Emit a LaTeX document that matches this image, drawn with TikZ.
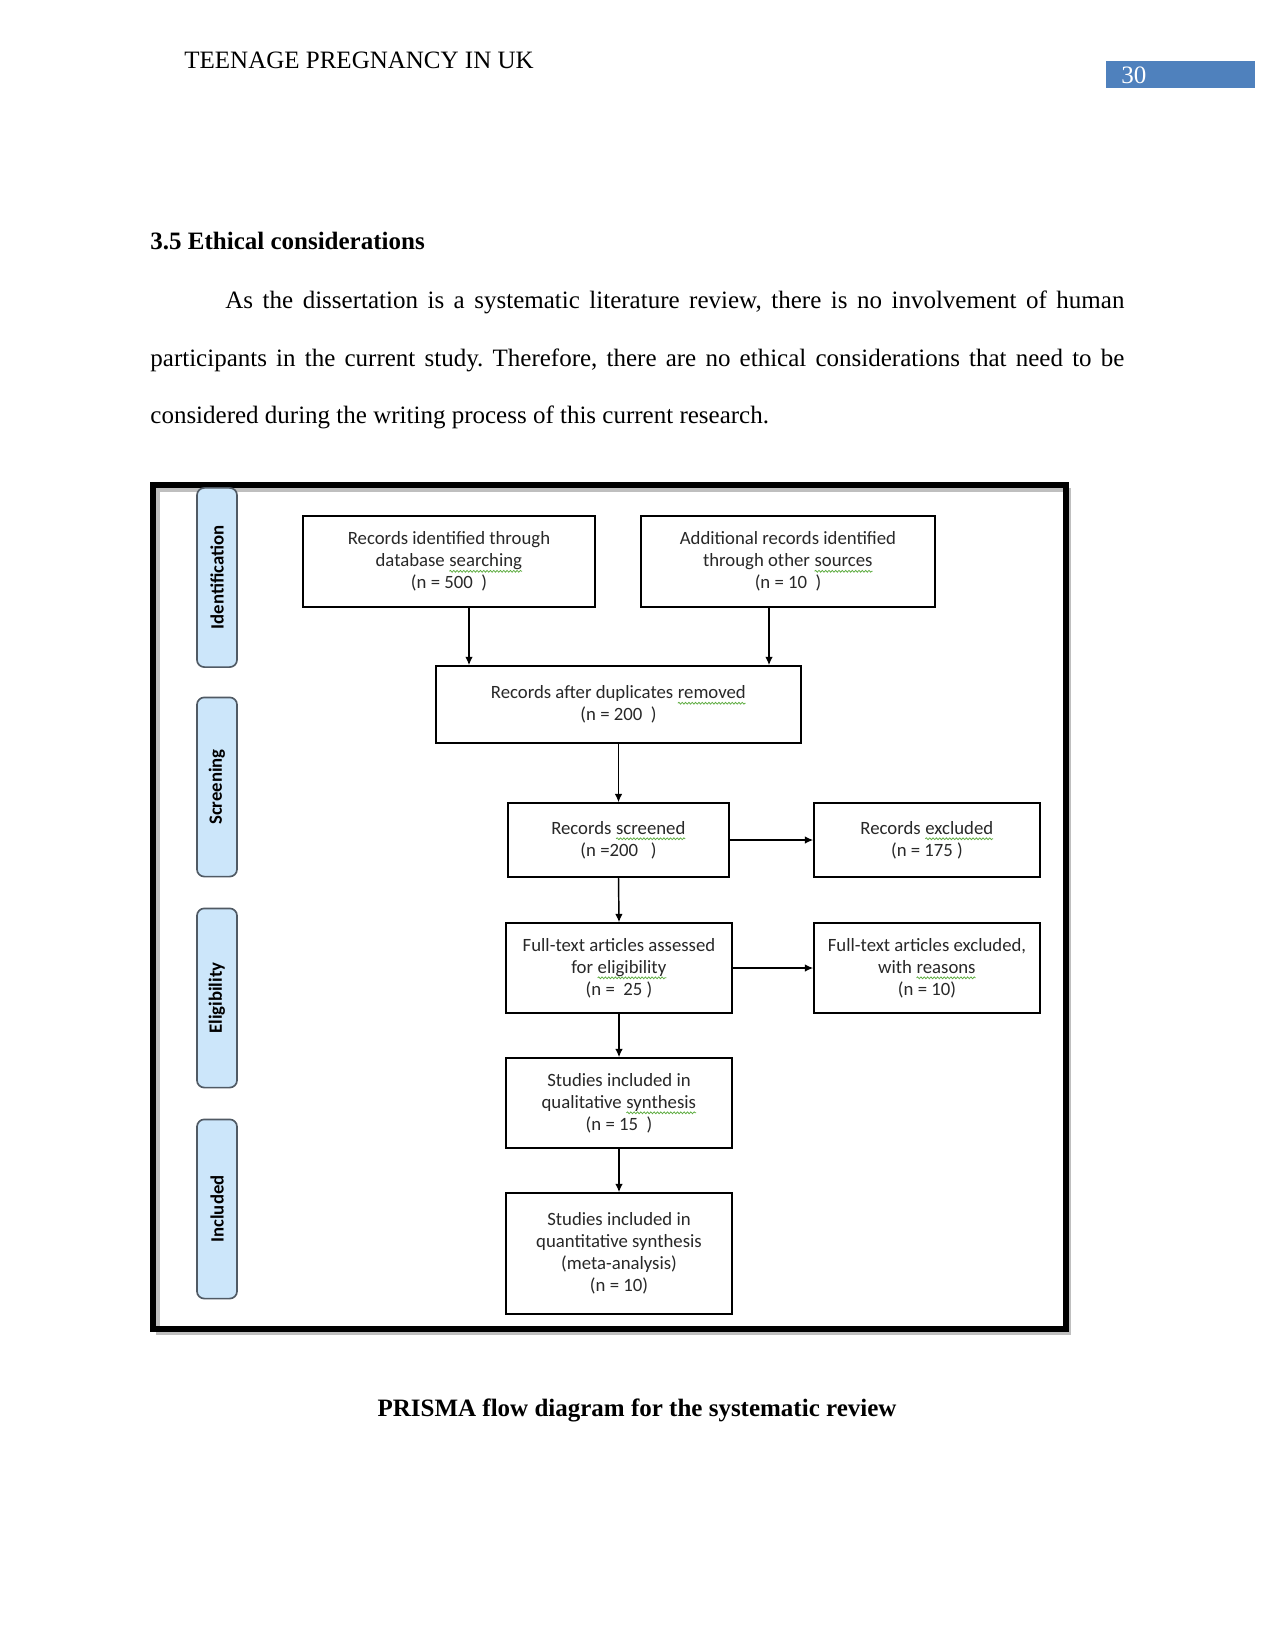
\documentclass[tikz,border=0pt]{standalone}
\usepackage{fontspec}
\setmainfont{Liberation Serif}
\newfontfamily\boxfont{Carlito}
\usetikzlibrary{arrows.meta,decorations.pathmorphing}
\definecolor{pnblue}{HTML}{4F81BD}
\definecolor{sidefill}{RGB}{204,230,250}
\definecolor{sidedraw}{RGB}{80,90,100}
\definecolor{boxtext}{RGB}{40,40,40}
\definecolor{sqc}{RGB}{90,170,60}
\frenchspacing
\newcommand\sq[1]{\tikz[baseline=(w.base),x=1pt,y=1pt]{\node[draw=none, fill=none, inner sep=0pt, outer sep=0pt,
    minimum width=0pt, minimum height=0pt, rotate=0, align=left, text=boxtext] (w) {#1};
  \draw[sqc, line width=0.35pt, decorate, decoration={snake,amplitude=0.45pt,segment length=1.6pt}]
    ([yshift=-2.2pt]w.base west) -- ([yshift=-2.2pt]w.base east);}}
\tikzset{
  flow/.style={draw=black, line width=0.7pt, fill=white, align=center,
    font=\boxfont\fontsize{9}{10.6}\selectfont, text=boxtext, inner sep=0pt},
  side/.style={draw=sidedraw, fill=sidefill, rounded corners=3.5pt, line width=0.8pt,
    rotate=90, minimum width=86pt, minimum height=19.2pt, inner sep=0pt,
    font=\boxfont\bfseries\fontsize{9}{10}\selectfont},
  arr/.style={line width=0.7pt, -{Latex[length=4pt,width=3.6pt]}},
  body/.style={font=\fontsize{12}{14}\selectfont, inner sep=0pt},
}
\begin{document}
\begin{tikzpicture}[x=0.48pt,y=-0.48pt]
\fill[white] (0,0) rectangle (1275,1650);
\useasboundingbox (0,0) rectangle (1275,1650);

% header
\node[body, anchor=base west] (hdr) at (184,69) {TEENAGE PREGNANCY IN UK};
\node[fill=pnblue, anchor=north west, minimum width=71.5pt, minimum height=13pt, inner sep=0pt] (pn) at (1106,61) {};
\node[body, anchor=base west, text=white] (pnt) at (1121,84) {30};

% heading and paragraph
\node[body, anchor=base west, font=\fontsize{12}{14}\selectfont\bfseries] (hd) at (150,250) {3.5 Ethical considerations};
\node[body, anchor=base west] (p1) at (225,309) {\makebox[431.5pt][s]{As the dissertation is a systematic literature review, there is no involvement of human}};
\node[body, anchor=base west] (p2) at (150,366.5) {\makebox[467.5pt][s]{participants in the current study. Therefore, there are no ethical considerations that need to be}};
\node[body, anchor=base west] (p3) at (150,424) {considered during the writing process of this current research.};

% frame
\draw[black!25, line width=2pt] (158,490) rectangle (1069,1333);
\draw[line width=2.9pt] (153,485) rectangle (1066,1329);

% side labels
\node[side] (s1) at (217,577.5) {Identification};
\node[side] (s2) at (217,787) {Screening};
\node[side] (s3) at (217,998) {Eligibility};
\node[side] (s4) at (217,1209) {Included};

% flow boxes
\node[flow, minimum width=140.2pt, minimum height=43.7pt] (A) at (449,561.5)
  {Records identified through\\ database \sq{searching}\\ (n = 500~~)};
\node[flow, minimum width=141.1pt, minimum height=43.7pt] (B) at (788,561.5)
  {Additional records identified\\ through other \sq{sources}\\ (n = 10~~)};
\node[flow, minimum width=175.2pt, minimum height=37pt] (C) at (618.5,704.5)
  {Records after duplicates \sq{removed}\\ (n = 200~~)};
\node[flow, minimum width=106.1pt, minimum height=35.5pt] (D) at (618.5,840)
  {Records \sq{screened}\\ (n =200~~~)};
\node[flow, minimum width=108.5pt, minimum height=35.5pt] (E) at (927,840)
  {Records \sq{excluded}\\ (n = 175 )};
\node[flow, minimum width=108.5pt, minimum height=43.2pt] (F) at (619,968)
  {Full-text articles assessed\\ for \sq{eligibility}\\ (n = ~25 )};
\node[flow, minimum width=108.5pt, minimum height=43.2pt] (G) at (927,968)
  {Full-text articles excluded,\\ with \sq{reasons}\\ (n = 10)};
\node[flow, minimum width=108.5pt, minimum height=43.2pt] (H) at (619,1103)
  {Studies included in\\ qualitative \sq{synthesis}\\ (n = 15~~)};
\node[flow, minimum width=108.5pt, minimum height=58.1pt] (I) at (619,1253.5)
  {Studies included in\\ quantitative synthesis\\ (meta-analysis)\\ (n = 10)};

% connectors
\coordinate (ax) at (469,0);
\coordinate (bx) at (769,0);
\draw[arr] (A.south -| ax) -- (C.north -| ax);
\draw[arr] (B.south -| bx) -- (C.north -| bx);
\draw[arr] (C.south) -- (D.north);
\draw[arr] (D.east) -- (E.west);
\draw[arr] (D.south) -- (F.north);
\draw[arr] (F.east) -- (G.west);
\draw[arr] (F.south) -- (H.north);
\draw[arr] (H.south) -- (I.north);

% caption
\node[body, anchor=base, font=\fontsize{12}{14}\selectfont\bfseries] (cap) at (637,1416) {PRISMA flow diagram for the systematic review};
\end{tikzpicture}
\end{document}
